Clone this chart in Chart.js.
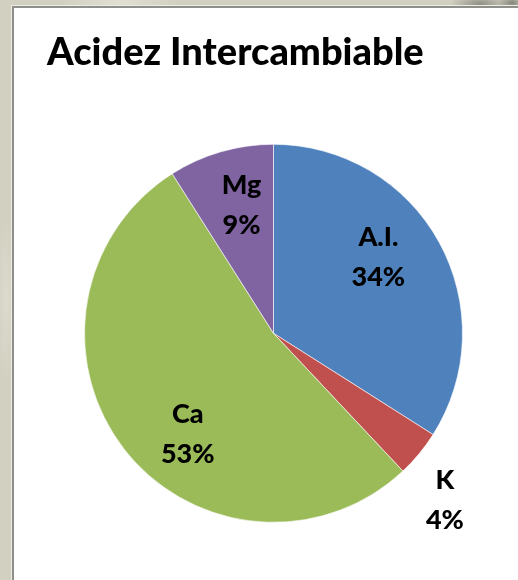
<!DOCTYPE html>
<html lang="es">
<head>
    <meta charset="UTF-8">
    <title>Acidez Intercambiable</title>
    <script src="https://cdn.jsdelivr.net/npm/chart.js"></script>
    <style>
        html, body {
            margin: 0;
            padding: 0;
            width: 518px;
            height: 580px;
            overflow: hidden;
        }

        body {
            background-color: #d2d0c1;
            background-image:
                radial-gradient(ellipse 30px 10px at 480px 4px, rgba(90, 90, 85, 0.55), rgba(90, 90, 85, 0) 100%),
                radial-gradient(ellipse 14px 8px at 512px 3px, rgba(80, 80, 75, 0.6), rgba(80, 80, 75, 0) 100%),
                radial-gradient(ellipse 60px 40px at 120px 4px, rgba(235, 233, 222, 0.6), rgba(235, 233, 222, 0) 100%),
                radial-gradient(ellipse 10px 80px at 6px 300px, rgba(228, 226, 214, 0.6), rgba(228, 226, 214, 0) 100%);
            position: relative;
        }

        .marco {
            position: absolute;
            left: 12px;
            top: 6px;
            width: 520px;
            height: 590px;
            background: #fff;
            border-left: 2px solid #8e8e8b;
            border-top: 2px solid #8e8e8b;
            box-shadow: -1px -1px 0 #ecebe4;
        }

        #grafico {
            position: absolute;
            left: 0;
            top: 0;
        }
    </style>
</head>
<body>
    <div class="marco"></div>
    <canvas id="grafico" width="518" height="580"></canvas>

    <script>
        const categorias = ['A.I.', 'K', 'Ca', 'Mg'];
        const valores = [34, 4, 53, 9];
        const colores = ['#4F81BD', '#C0504D', '#9BBB59', '#8064A2'];

        // ajuste de cada etiqueta: giro (grados) respecto al centro del sector y fraccion del radio
        const giroEtiqueta = [-7.1, 4.6, -11.8, 2.2];
        const radioEtiqueta = [0.685, 1.265, 0.70, 0.70];

        const fuente = 'Lato, "DejaVu Sans", sans-serif';

        const etiquetasSectores = {
            id: 'etiquetasSectores',
            afterDatasetsDraw(chart) {
                const ctx = chart.ctx;
                const meta = chart.getDatasetMeta(0);
                const total = valores.reduce((a, b) => a + b, 0);
                ctx.save();
                ctx.fillStyle = '#000';
                ctx.font = '900 27px ' + fuente;
                ctx.textAlign = 'center';
                ctx.textBaseline = 'middle';
                meta.data.forEach((arco, i) => {
                    const p = arco.getProps(['x', 'y', 'startAngle', 'endAngle', 'outerRadius'], true);
                    const medio = (p.startAngle + p.endAngle) / 2 + giroEtiqueta[i] * Math.PI / 180;
                    const r = p.outerRadius * radioEtiqueta[i];
                    const x = p.x + Math.cos(medio) * r;
                    const y = p.y + Math.sin(medio) * r;
                    const pct = Math.round(valores[i] / total * 100) + '%';
                    ctx.fillText(categorias[i], x, y - 20);
                    ctx.fillText(pct, x, y + 20);
                });
                ctx.restore();
            }
        };

        new Chart(document.getElementById('grafico'), {
            type: 'pie',
            data: {
                labels: categorias,
                datasets: [{
                    data: valores,
                    backgroundColor: colores,
                    borderColor: 'rgba(255, 255, 255, 0.6)',
                    borderWidth: 1,
                    radius: 189
                }]
            },
            options: {
                responsive: false,
                animation: false,
                layout: {
                    padding: { left: 47, right: 18, top: 0, bottom: 53 }
                },
                plugins: {
                    legend: { display: false },
                    tooltip: { enabled: false },
                    title: {
                        display: true,
                        text: 'Acidez Intercambiable',
                        align: 'start',
                        color: '#000',
                        font: { family: fuente, size: 38, weight: '900', lineHeight: 1.2 },
                        padding: { top: 30, bottom: 64 }
                    }
                }
            },
            plugins: [etiquetasSectores]
        });
    </script>
</body>
</html>
